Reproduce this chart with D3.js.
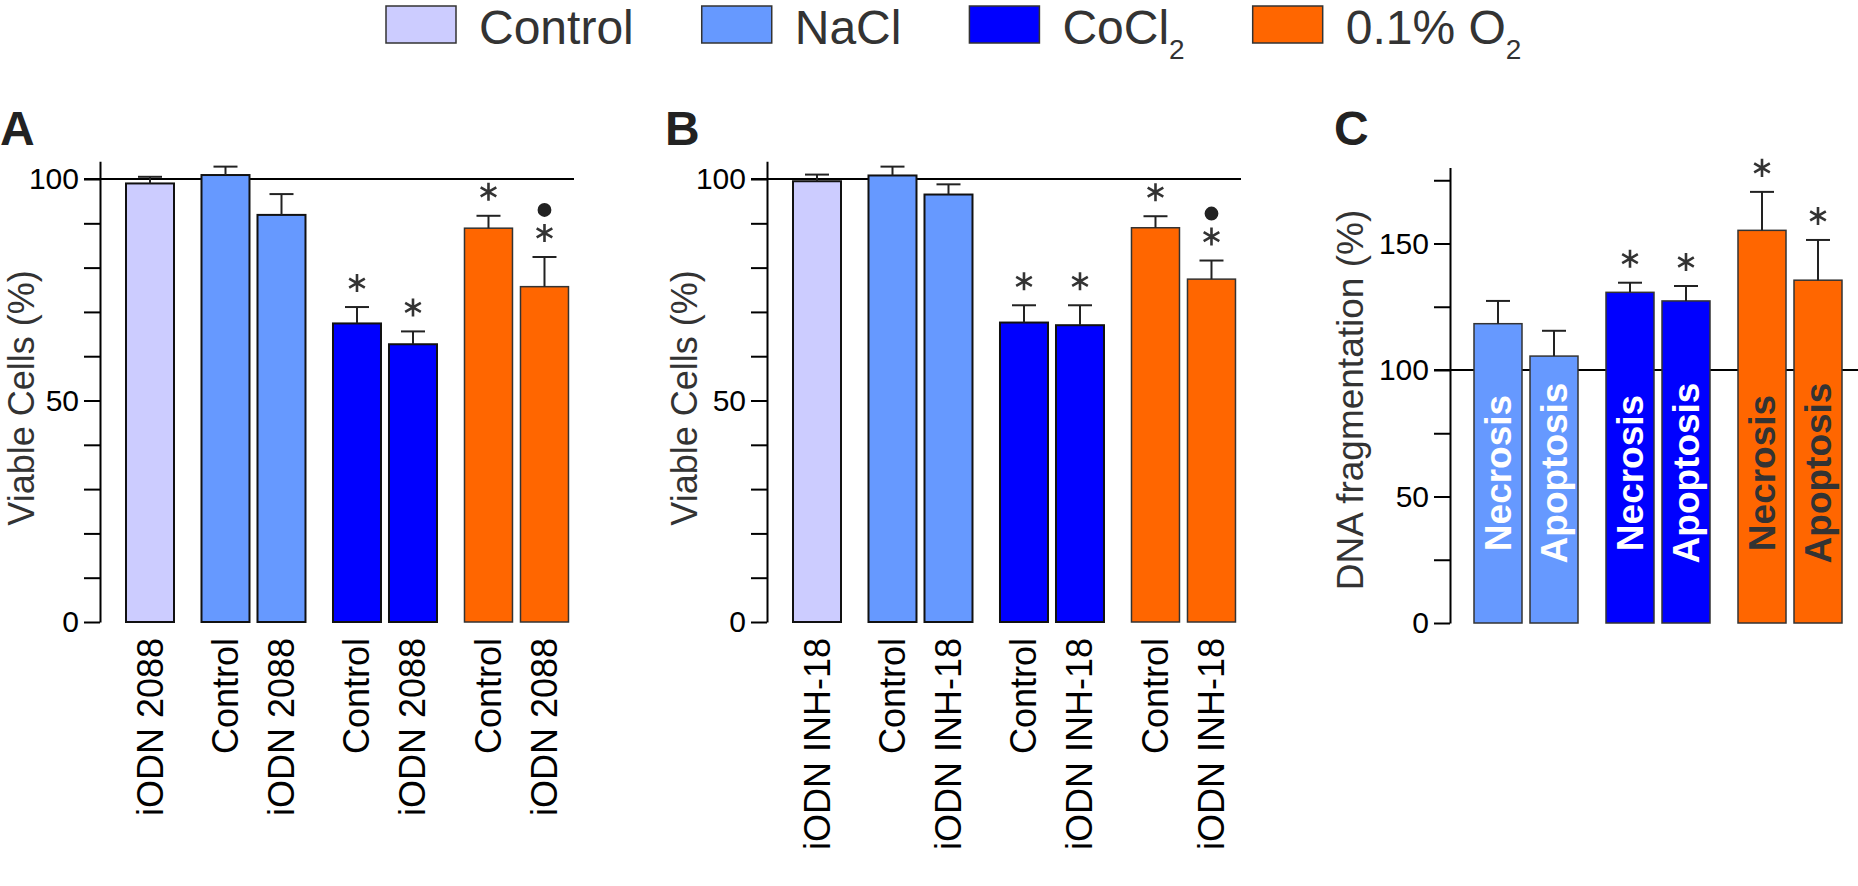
<!DOCTYPE html>
<html>
<head>
<meta charset="utf-8">
<script src="https://cdn.jsdelivr.net/npm/d3@7"></script>
<style>
    body { margin: 0; background: #fff; }
    svg { display: block; font-family: "Liberation Sans", Arial, sans-serif; }
</style>
</head>
<body>
<div class="figure"></div>
<script>
"use strict"

// legend / conditions
const conditions = ["Control", "NaCl", "CoCl2", "O2"];
const legendNames = ["Control", "NaCl", "CoCl", "0.1% O"];
const legendSubs = ["", "", "2", "2"];
const colors = ["#ccccff", "#6699ff", "#0000ff", "#ff6600"];

// panel A - iODN 2088
const condA = ["Control", "NaCl", "NaCl", "CoCl2", "CoCl2", "O2", "O2"];
const treatA = ["iODN", "Control", "iODN", "Control", "iODN", "Control", "iODN"];
const labelsA = ["iODN 2088", "Control", "iODN 2088", "Control", "iODN 2088", "Control", "iODN 2088"];
const meanA = [99.0, 100.9, 91.9, 67.4, 62.7, 88.9, 75.7];
const semA = [1.5, 1.9, 4.7, 3.7, 2.9, 2.8, 6.7];
const sigA = ["", "", "", "*", "*", "*", "*o"];

// panel B - iODN INH-18
const condB = ["Control", "NaCl", "NaCl", "CoCl2", "CoCl2", "O2", "O2"];
const treatB = ["iODN", "Control", "iODN", "Control", "iODN", "Control", "iODN"];
const labelsB = ["iODN INH-18", "Control", "iODN INH-18", "Control", "iODN INH-18", "Control", "iODN INH-18"];
const meanB = [99.5, 100.8, 96.5, 67.6, 67.0, 89.0, 77.4];
const semB = [1.5, 2.0, 2.3, 3.9, 4.5, 2.6, 4.2];
const sigB = ["", "", "", "*", "*", "*", "*o"];

// panel C - DNA fragmentation
const condC = ["NaCl", "NaCl", "CoCl2", "CoCl2", "O2", "O2"];
const typeC = ["Necrosis", "Apoptosis", "Necrosis", "Apoptosis", "Necrosis", "Apoptosis"];
const meanC = [118.3, 105.5, 130.7, 127.3, 155.2, 135.5];
const semC = [9.0, 10.0, 3.8, 5.9, 15.2, 15.9];
const sigC = ["", "", "*", "*", "*", "*"];

const ticksViable = [0, 10, 20, 30, 40, 50, 60, 70, 80, 90, 100];
const labeledViable = [0, 50, 100];
const ticksFrag = [0, 25, 50, 75, 100, 125, 150, 175];
const labeledFrag = [0, 50, 100, 150];

const width = 1858,
    height = 886;

const svg = d3.select("div.figure").append("svg")
    .attr("width", width)
    .attr("height", height);

const color = d3.scaleOrdinal().domain(conditions).range(colors);

// legend
let lx = 386;
legendNames.forEach((name, i) => {
    const item = svg.append("g").attr("class", "legend-item");
    item.append("rect")
        .attr("x", lx).attr("y", 6)
        .attr("width", 70).attr("height", 37)
        .attr("fill", colors[i])
        .attr("stroke", "#333")
        .attr("stroke-width", 1.5);
    const t = item.append("text")
        .attr("x", lx + 93).attr("y", 44)
        .attr("font-size", 48)
        .attr("fill", "#333")
        .text(name);
    if (legendSubs[i]) {
        t.append("tspan")
            .attr("dy", 15)
            .attr("font-size", 28)
            .text(legendSubs[i]);
    }
    lx += 93 + t.node().getComputedTextLength() + 68;
});

const barWidth = 48;
const inner = d3.scaleBand()
    .domain(["Control", "iODN"])
    .range([0, 104])
    .paddingInner(8 / 56);

function yAxisOf(g, y, axisX, ticks, labeled) {
    const ax = g.append("g")
        .attr("class", "y-axis")
        .attr("transform", "translate(" + axisX + ",0)")
        .call(d3.axisLeft(y)
            .tickValues(ticks)
            .tickSize(16)
            .tickSizeOuter(0)
            .tickPadding(5)
            .tickFormat(d => labeled.includes(d) ? d : ""));
    ax.select("path.domain").attr("stroke", "#000").attr("stroke-width", 2);
    ax.selectAll("g.tick line").attr("stroke", "#000").attr("stroke-width", 2);
    ax.selectAll("g.tick text")
        .attr("font-size", 30)
        .attr("font-family", "\"Liberation Sans\", Arial, sans-serif")
        .attr("fill", "#000");
}

function drawMarks(g, y, xs, means, sems, sigs) {
    // error bars + significance marks
    means.forEach((m, i) => {
        const cx = xs[i] + barWidth / 2;
        const top = y(m + sems[i]);
        g.append("line")
            .attr("x1", cx).attr("x2", cx)
            .attr("y1", y(m)).attr("y2", top)
            .attr("stroke", "#222").attr("stroke-width", 2);
        g.append("line")
            .attr("x1", cx - 12).attr("x2", cx + 12)
            .attr("y1", top).attr("y2", top)
            .attr("stroke", "#222").attr("stroke-width", 2);
        if (sigs[i].includes("*")) {
            g.append("path")
                .attr("class", "asterisk")
                .attr("transform", "translate(" + cx + "," + (top - 24) + ")")
                .attr("d", d3.symbol().type(d3.symbolAsterisk).size(230)())
                .attr("fill", "none")
                .attr("stroke", "#333")
                .attr("stroke-width", 2.6);
        }
        if (sigs[i].includes("o")) {
            g.append("path")
                .attr("class", "dot")
                .attr("transform", "translate(" + cx + "," + (top - 47) + ")")
                .attr("d", d3.symbol().type(d3.symbolCircle).size(150)())
                .attr("fill", "#222");
        }
    });
}

function viabilityPanel(axisX, letter, letterX, titleX, cond, treat, labels, means, sems, sigs) {
    const g = svg.append("g").attr("class", "panel");
    const y = d3.scaleLinear().domain([0, 104]).range([622, 161.3]);
    const groups = d3.scaleBand()
        .domain(conditions)
        .range([axisX - 30, axisX + 468.5])
        .paddingInner(0.209);

    const xs = means.map((m, i) => groups(cond[i]) + inner(treat[i]));

    g.append("text")
        .attr("x", letterX).attr("y", 145)
        .attr("font-size", 48).attr("font-weight", "bold")
        .attr("fill", "#222")
        .text(letter);

    g.append("text")
        .attr("transform", "translate(" + titleX + ",398) rotate(-90)")
        .attr("text-anchor", "middle")
        .attr("dominant-baseline", "central")
        .attr("font-size", 36)
        .attr("fill", "#333")
        .text("Viable Cells (%)");

    // reference line at 100
    g.append("line")
        .attr("x1", axisX - 16).attr("x2", axisX + 474)
        .attr("y1", y(100)).attr("y2", y(100))
        .attr("stroke", "#000").attr("stroke-width", 2);

    yAxisOf(g, y, axisX, ticksViable, labeledViable);

    g.selectAll("rect.bar")
        .data(means)
        .join("rect")
        .attr("class", "bar")
        .attr("x", (d, i) => xs[i])
        .attr("y", d => y(d))
        .attr("width", barWidth)
        .attr("height", d => y(0) - y(d))
        .attr("fill", (d, i) => color(cond[i]))
        .attr("stroke", (d, i) => cond[i] === "O2" ? "#333" : "#111")
        .attr("stroke-width", (d, i) => cond[i] === "O2" ? 1.5 : 2);

    drawMarks(g, y, xs, means, sems, sigs);

    g.selectAll("text.xlabel")
        .data(labels)
        .join("text")
        .attr("class", "xlabel")
        .attr("transform", (d, i) => "translate(" + (xs[i] + barWidth / 2) + ",638) rotate(-90)")
        .attr("text-anchor", "end")
        .attr("dominant-baseline", "central")
        .attr("font-size", 36)
        .attr("fill", "#000")
        .text(d => d);
}

viabilityPanel(100, "A", 0, 21, condA, treatA, labelsA, meanA, semA, sigA);
viabilityPanel(767, "B", 665, 684, condB, treatB, labelsB, meanB, semB, sigB);

// panel C
(function () {
    const axisX = 1450;
    const g = svg.append("g").attr("class", "panel");
    const y = d3.scaleLinear().domain([0, 180]).range([623, 167.6]);
    const groups = d3.scaleBand()
        .domain(["NaCl", "CoCl2", "O2"])
        .range([axisX + 24, axisX + 24 + 132 * 2 + 104])
        .paddingInner(28 / 132);
    const innerC = d3.scaleBand()
        .domain(["Necrosis", "Apoptosis"])
        .range([0, 104])
        .paddingInner(8 / 56);
    const xs = meanC.map((m, i) => groups(condC[i]) + innerC(typeC[i]));

    g.append("text")
        .attr("x", 1334).attr("y", 145)
        .attr("font-size", 48).attr("font-weight", "bold")
        .attr("fill", "#222")
        .text("C");

    g.append("text")
        .attr("transform", "translate(1350,400) rotate(-90)")
        .attr("text-anchor", "middle")
        .attr("dominant-baseline", "central")
        .attr("font-size", 37)
        .attr("fill", "#333")
        .text("DNA fragmentation (%)");

    g.append("line")
        .attr("x1", axisX - 16).attr("x2", width)
        .attr("y1", y(100)).attr("y2", y(100))
        .attr("stroke", "#000").attr("stroke-width", 2);

    yAxisOf(g, y, axisX, ticksFrag, labeledFrag);

    g.selectAll("rect.bar")
        .data(meanC)
        .join("rect")
        .attr("class", "bar")
        .attr("x", (d, i) => xs[i])
        .attr("y", d => y(d))
        .attr("width", barWidth)
        .attr("height", d => y(0) - y(d))
        .attr("fill", (d, i) => color(condC[i]))
        .attr("stroke", "#333")
        .attr("stroke-width", 1.5);

    drawMarks(g, y, xs, meanC, semC, sigC);

    g.selectAll("text.inlabel")
        .data(typeC)
        .join("text")
        .attr("class", "inlabel")
        .attr("transform", (d, i) => "translate(" + (xs[i] + barWidth / 2) + ",473) rotate(-90)")
        .attr("text-anchor", "middle")
        .attr("dominant-baseline", "central")
        .attr("font-size", 37)
        .attr("font-weight", "bold")
        .attr("fill", (d, i) => condC[i] === "O2" ? "#333" : "#fff")
        .text(d => d);
})();
</script>
</body>
</html>
